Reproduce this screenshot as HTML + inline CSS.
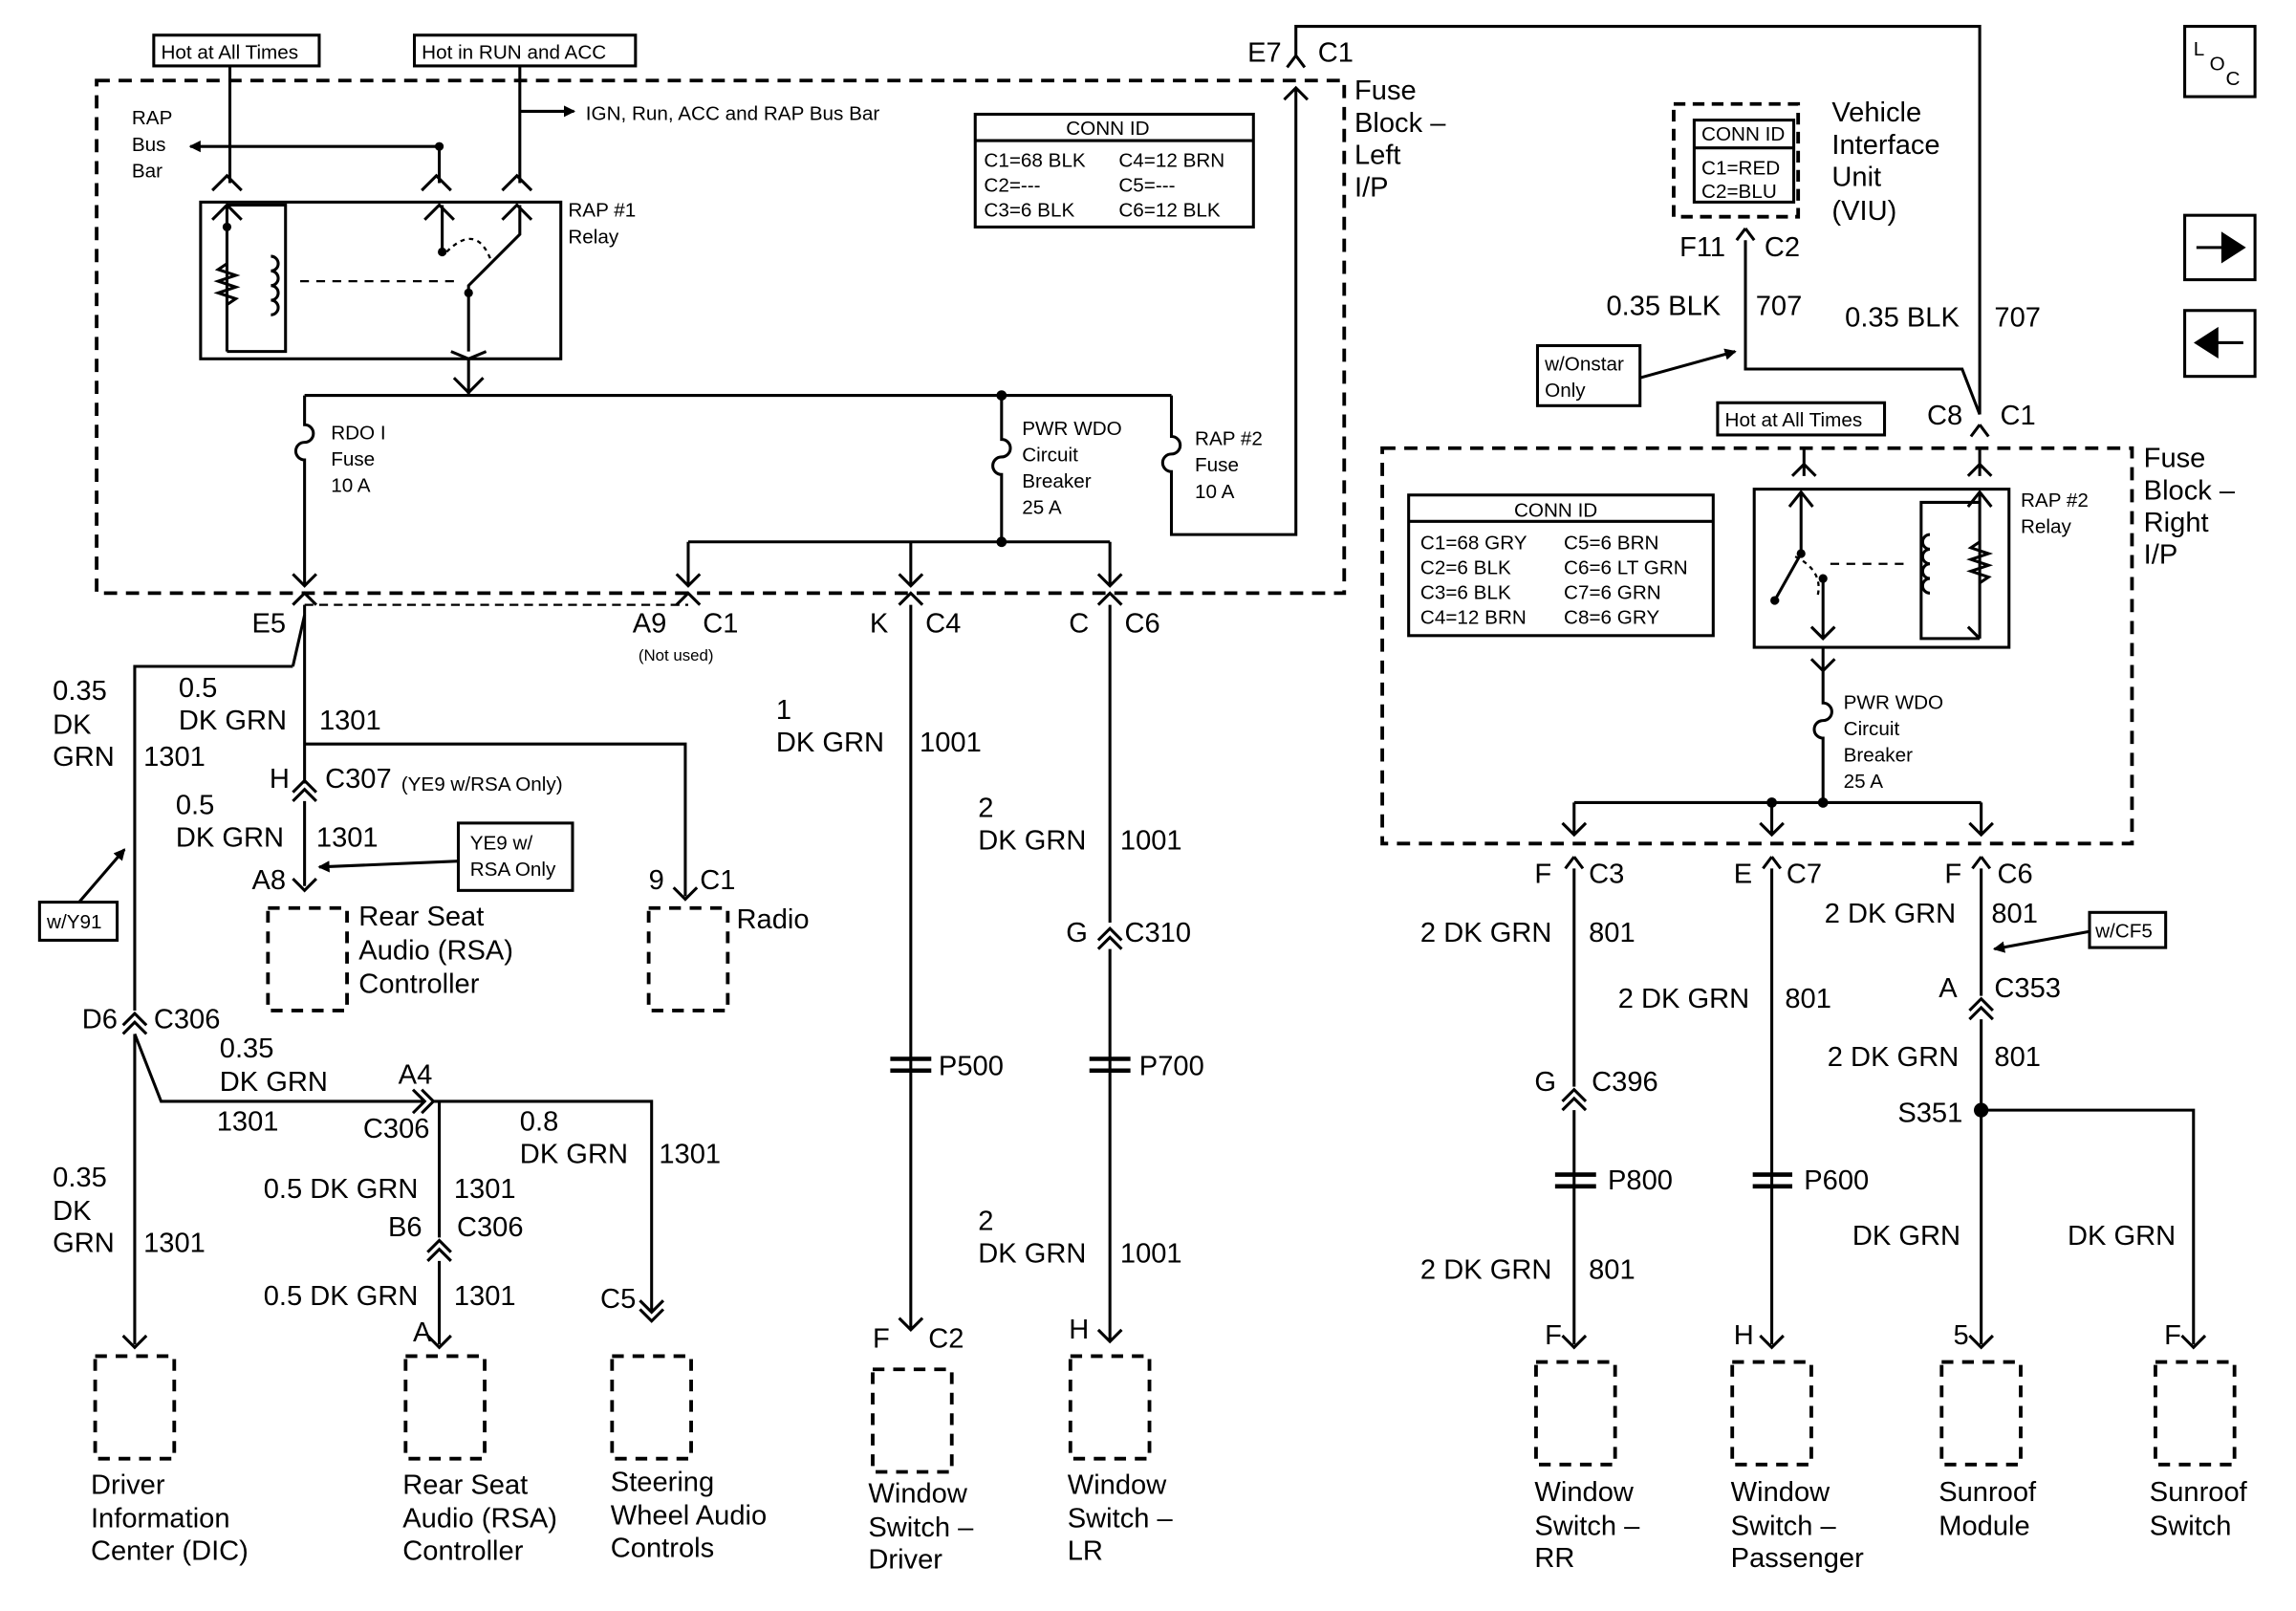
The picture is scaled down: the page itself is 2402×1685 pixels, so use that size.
<!DOCTYPE html>
<html><head><meta charset="utf-8"><style>
html,body{margin:0;padding:0;background:#fff}
svg{display:block}
text{font-family:"Liberation Sans",Arial,sans-serif;fill:#000}
.s{font-size:13.5px}.m{font-size:19px}.x{font-size:11px}
</style></head><body>
<svg width="2402" height="1685" viewBox="0 0 1568 1100" preserveAspectRatio="none" xmlns="http://www.w3.org/2000/svg">
<defs>
<marker id="ah" markerWidth="8" markerHeight="8" refX="7" refY="4" orient="auto" markerUnits="userSpaceOnUse"><path d="M0,0 L8,4 L0,8 z" fill="#000"/></marker>
</defs>
<g fill="none" stroke="#000" stroke-width="2">
<rect x="66" y="55" width="852" height="350" stroke-dasharray="9,6" stroke-width="2.5"/>
<rect x="944" y="306" width="512" height="270" stroke-dasharray="9,6" stroke-width="2.5"/>
<rect x="1143" y="71" width="85" height="77" stroke-dasharray="8,5" stroke-width="2.5"/>
<rect x="105" y="24" width="113" height="21"/>
<rect x="283" y="24" width="151" height="21"/>
<rect x="666" y="78" width="190" height="77"/>
<line x1="666" y1="96" x2="856" y2="96"/>
<rect x="1157" y="82" width="68" height="56"/>
<line x1="1157" y1="101" x2="1225" y2="101"/>
<rect x="137" y="138" width="246" height="107"/>
<rect x="1050" y="236" width="70" height="41"/>
<rect x="1173" y="275" width="114" height="22"/>
<rect x="962" y="338" width="208" height="96"/>
<line x1="962" y1="356" x2="1170" y2="356"/>
<rect x="1198" y="334" width="174" height="108"/>
<rect x="313" y="562" width="78" height="46"/>
<rect x="27" y="616" width="53" height="26"/>
<rect x="1427" y="623" width="52" height="24"/>
<rect x="1492" y="18" width="48" height="48"/>
<rect x="1492" y="147" width="48" height="44"/>
<rect x="1492" y="212" width="48" height="45"/>
<path d="M157 45 V125 M145 130 L155 120 L165 130"/>
<path d="M355 45 V125 M343 130 L353 120 L363 130"/>
<path d="M300 100 V125 M288 130 L298 120 L308 130"/>
<path d="M300 100 H130" marker-end="url(#ah)"/>
<path d="M355 76 H392" marker-end="url(#ah)"/>
<path d="M155 140 V240 M145 150 L155 140 L165 150 M155 240 H195 V140 H155"/>
<path d="M155 180 l-6 4 l12 4 l-12 4 l12 4 l-12 4 l12 4 l-6 4"/>
<path d="M185 175 a5 5 0 0 1 0 10 a5 5 0 0 1 0 10 a5 5 0 0 1 0 10 a5 5 0 0 1 0 10"/>
<path d="M205 192 H310" stroke-dasharray="6,5" stroke-width="1.5"/>
<path d="M302 140 V172 M290 150 L300 140 L310 150 M355 140 V160 L320 195 V240 M343 150 L353 140 L363 150 M308 240 L320 245 L332 240"/>
<path d="M305 172 q20 -20 30 5" stroke-dasharray="3,3" stroke-width="1.5"/>
<path d="M320 245 V270 M310 258 L320 268 L330 258"/>
<path d="M208 270 H800"/>
<path d="M208 270 V290 a6 6 0 0 1 0 12 a6 6 0 0 0 0 12 V400 M200 392 L208 400 L216 392"/>
<path d="M684 270 V300 a6 6 0 0 1 0 12 a6 6 0 0 0 0 12 V370"/>
<path d="M800 270 V298 a6 6 0 0 1 0 12 a6 6 0 0 0 0 12 V365 H885 V60 M877 68 L885 60 L893 68"/>
<path d="M470 370 H758 M470 370 V400 M622 370 V400 M758 370 V400 M462 392 L470 400 L478 392 M614 392 L622 400 L630 392 M750 392 L758 400 L766 392"/>
<path d="M885 38 L879 46 M885 38 L891 46 M885 38 V18 H1352 V283"/>
<path d="M1192 156 L1186 164 M1192 156 L1198 164 M1192 164 V252 H1340 L1352 283"/>
<path d="M1120 258 L1185 240" marker-end="url(#ah)"/>
<path d="M1352 290 L1346 298 M1352 290 L1358 298"/>
<path d="M1232 306 V325 M1224 325 L1232 317 L1240 325 M1352 306 V325 M1344 325 L1352 317 L1360 325"/>
<path d="M1230 336 V378 L1212 410 M1222 346 L1230 336 L1238 346 M1245 395 V436 M1237 428 L1245 436 L1253 428 M1212 410 H1215"/>
<path d="M1226 380 q20 10 15 28" stroke-dasharray="3,3" stroke-width="1.5"/>
<path d="M1250 385 H1300" stroke-dasharray="6,5" stroke-width="1.5"/>
<path d="M1352 336 V436 M1344 346 L1352 336 L1360 346 M1352 436 H1312 V343 H1352 M1344 428 L1352 436"/>
<path d="M1352 370 l-6 4 l12 4 l-12 4 l12 4 l-12 4 l12 4 l-6 4"/>
<path d="M1318 365 a5 5 0 0 0 0 10 a5 5 0 0 0 0 10 a5 5 0 0 0 0 10 a5 5 0 0 0 0 10"/>
<path d="M1245 442 V458 M1237 450 L1245 458 L1253 450 M1245 458 V480 a6 6 0 0 1 0 12 a6 6 0 0 0 0 12 V548"/>
<path d="M1075 548 H1353 M1075 548 V570 M1210 548 V570 M1353 548 V570 M1067 562 L1075 570 L1083 562 M1202 562 L1210 570 L1218 562 M1345 562 L1353 570 L1361 562"/>
<path d="M1075 585 L1069 593 M1075 585 L1081 593 M1075 593 V742 M1067 752 L1075 744 L1083 752 M1067 758 L1075 750 L1083 758 M1075 758 V918 M1067 912 L1075 920 L1083 912"/>
<path d="M1210 585 L1204 593 M1210 585 L1216 593 M1210 593 V918 M1202 912 L1210 920 L1218 912"/>
<path d="M1353 585 L1347 593 M1353 585 L1359 593 M1353 593 V680 M1345 690 L1353 682 L1361 690 M1345 696 L1353 688 L1361 696 M1353 696 V918 M1345 912 L1353 920 L1361 912"/>
<path d="M1353 758 H1498 V918 M1490 912 L1498 920 L1506 912"/>
<path d="M1427 636 L1362 648" marker-end="url(#ah)"/>
<path d="M200 413 L208 405 L216 413 M208 413 V535 M200 541 L208 533 L216 541 M200 547 L208 539 L216 547 M208 547 V605 M200 600 L208 608 L216 600"/>
<path d="M200 455 H92 V690 M84 700 L92 692 L100 700 M84 706 L92 698 L100 706 M92 706 V918 M84 912 L92 920 L100 912"/>
<path d="M200 455 L208 420" />
<path d="M208 413 H470" stroke-dasharray="6,4" stroke-width="1.5"/>
<path d="M462 413 L470 405 L478 413"/>
<path d="M208 508 H468 V612 M460 606 L468 614 L476 606"/>
<path d="M313 588 L218 592" marker-end="url(#ah)"/>
<path d="M54 616 L85 580" marker-end="url(#ah)"/>
<path d="M92 706 L110 752 H290 M282 744 L290 752 L282 760 M288 744 L296 752 L288 760 M296 752 H445 V895 M437 888 L445 896 L453 888 M437 894 L445 902 L453 894"/>
<path d="M300 752 V845 M292 855 L300 847 L308 855 M292 861 L300 853 L308 861 M300 861 V918 M292 912 L300 920 L308 912"/>
<path d="M614 413 L622 405 L630 413 M622 413 V908 M614 900 L622 908 L630 900"/>
<path d="M750 413 L758 405 L766 413 M758 413 V630 M750 642 L758 634 L766 642 M750 648 L758 640 L766 648 M758 648 V915 M750 908 L758 916 L766 908"/>
<path d="M608 723 H636 M608 731 H636 M744 723 H772 M744 731 H772 M1062 802 H1090 M1062 810 H1090 M1197 802 H1224 M1197 810 H1224" stroke-width="3"/>
<g stroke-dasharray="8,6" stroke-width="2.5">
<rect x="183" y="620" width="54" height="70"/><rect x="443" y="620" width="54" height="70"/>
<rect x="65" y="926" width="54" height="70"/><rect x="277" y="926" width="54" height="70"/><rect x="418" y="926" width="54" height="70"/>
<rect x="596" y="935" width="54" height="70"/><rect x="731" y="926" width="54" height="70"/>
<rect x="1049" y="930" width="54" height="70"/><rect x="1183" y="930" width="54" height="70"/><rect x="1326" y="930" width="54" height="70"/><rect x="1472" y="930" width="54" height="70"/>
</g>
<path d="M1500 169 H1518 V160 L1532 169 L1518 178 V169" fill="#000"/>
<path d="M1532 234 H1514 V225 L1500 234 L1514 243 V234" fill="#000"/>
</g>
<g fill="#000">
<circle cx="300" cy="100" r="3"/><circle cx="155" cy="155" r="3"/><circle cx="302" cy="172" r="3"/><circle cx="320" cy="200" r="3"/>
<circle cx="684" cy="270" r="3.5"/><circle cx="684" cy="370" r="3.5"/>
<circle cx="1210" cy="548" r="3.5"/><circle cx="1245" cy="548" r="3.5"/><circle cx="1353" cy="758" r="5"/>
<circle cx="1230" cy="378" r="3"/><circle cx="1245" cy="395" r="3"/><circle cx="1212" cy="410" r="3"/>
</g>
<text class="s" x="110" y="40">Hot at All Times</text>
<text class="s" x="288" y="40">Hot in RUN and ACC</text>
<text class="s" x="90" y="85">RAP</text><text class="s" x="90" y="103">Bus</text><text class="s" x="90" y="121">Bar</text>
<text class="s" x="400" y="82">IGN, Run, ACC and RAP Bus Bar</text>
<text class="s" x="388" y="148">RAP #1</text><text class="s" x="388" y="166">Relay</text>
<text class="s" x="728" y="92">CONN ID</text>
<text class="s" x="672" y="114">C1=68 BLK</text><text class="s" x="764" y="114">C4=12 BRN</text>
<text class="s" x="672" y="131">C2=---</text><text class="s" x="764" y="131">C5=---</text>
<text class="s" x="672" y="148">C3=6 BLK</text><text class="s" x="764" y="148">C6=12 BLK</text>
<text class="m" x="852" y="42">E7</text><text class="m" x="900" y="42">C1</text>
<text class="m" x="925" y="68">Fuse</text><text class="m" x="925" y="90">Block –</text><text class="m" x="925" y="112">Left</text><text class="m" x="925" y="134">I/P</text>
<text class="s" x="226" y="300">RDO I</text><text class="s" x="226" y="318">Fuse</text><text class="s" x="226" y="336">10 A</text>
<text class="s" x="698" y="297">PWR WDO</text><text class="s" x="698" y="315">Circuit</text><text class="s" x="698" y="333">Breaker</text><text class="s" x="698" y="351">25 A</text>
<text class="s" x="816" y="304">RAP #2</text><text class="s" x="816" y="322">Fuse</text><text class="s" x="816" y="340">10 A</text>
<text class="s" x="1162" y="96">CONN ID</text><text class="s" x="1162" y="119">C1=RED</text><text class="s" x="1162" y="135">C2=BLU</text>
<text class="m" x="1251" y="83">Vehicle</text><text class="m" x="1251" y="105">Interface</text><text class="m" x="1251" y="127">Unit</text><text class="m" x="1251" y="150">(VIU)</text>
<text class="m" x="1147" y="175">F11</text><text class="m" x="1205" y="175">C2</text>
<text class="m" x="1097" y="215">0.35 BLK</text><text class="m" x="1199" y="215">707</text>
<text class="m" x="1260" y="223">0.35 BLK</text><text class="m" x="1362" y="223">707</text>
<text class="s" x="1055" y="253">w/Onstar</text><text class="s" x="1055" y="271">Only</text>
<text class="s" x="1178" y="291">Hot at All Times</text>
<text class="m" x="1316" y="290">C8</text><text class="m" x="1366" y="290">C1</text>
<text class="m" x="1464" y="319">Fuse</text><text class="m" x="1464" y="341">Block –</text><text class="m" x="1464" y="363">Right</text><text class="m" x="1464" y="385">I/P</text>
<text class="s" x="1034" y="353">CONN ID</text>
<text class="s" x="970" y="375">C1=68 GRY</text><text class="s" x="1068" y="375">C5=6 BRN</text>
<text class="s" x="970" y="392">C2=6 BLK</text><text class="s" x="1068" y="392">C6=6 LT GRN</text>
<text class="s" x="970" y="409">C3=6 BLK</text><text class="s" x="1068" y="409">C7=6 GRN</text>
<text class="s" x="970" y="426">C4=12 BRN</text><text class="s" x="1068" y="426">C8=6 GRY</text>
<text class="s" x="1380" y="346">RAP #2</text><text class="s" x="1380" y="364">Relay</text>
<text class="s" x="1259" y="484">PWR WDO</text><text class="s" x="1259" y="502">Circuit</text><text class="s" x="1259" y="520">Breaker</text><text class="s" x="1259" y="538">25 A</text>
<text class="m" x="172" y="432">E5</text>
<text class="m" x="432" y="432">A9</text><text class="m" x="480" y="432">C1</text><text class="x" x="436" y="451">(Not used)</text>
<text class="m" x="594" y="432">K</text><text class="m" x="632" y="432">C4</text>
<text class="m" x="730" y="432">C</text><text class="m" x="768" y="432">C6</text>
<text class="m" x="36" y="478">0.35</text><text class="m" x="36" y="501">DK</text><text class="m" x="36" y="523">GRN</text><text class="m" x="98" y="523">1301</text>
<text class="m" x="122" y="476">0.5</text><text class="m" x="122" y="498">DK GRN</text><text class="m" x="218" y="498">1301</text>
<text class="m" x="184" y="538">H</text><text class="m" x="222" y="538">C307</text><text class="s" x="274" y="540">(YE9 w/RSA Only)</text>
<text class="m" x="120" y="556">0.5</text><text class="m" x="120" y="578">DK GRN</text><text class="m" x="216" y="578">1301</text>
<text class="s" x="321" y="580">YE9 w/</text><text class="s" x="321" y="598">RSA Only</text>
<text class="m" x="172" y="607">A8</text>
<text class="m" x="245" y="632">Rear Seat</text><text class="m" x="245" y="655">Audio (RSA)</text><text class="m" x="245" y="678">Controller</text>
<text class="m" x="443" y="607">9</text><text class="m" x="478" y="607">C1</text><text class="m" x="503" y="634">Radio</text>
<text class="s" x="32" y="634">w/Y91</text>
<text class="m" x="56" y="702">D6</text><text class="m" x="105" y="702">C306</text>
<text class="m" x="150" y="722">0.35</text><text class="m" x="150" y="745">DK GRN</text><text class="m" x="148" y="772">1301</text>
<text class="m" x="272" y="740">A4</text><text class="m" x="248" y="777">C306</text>
<text class="m" x="355" y="772">0.8</text><text class="m" x="355" y="794">DK GRN</text><text class="m" x="450" y="794">1301</text>
<text class="m" x="36" y="810">0.35</text><text class="m" x="36" y="833">DK</text><text class="m" x="36" y="855">GRN</text><text class="m" x="98" y="855">1301</text>
<text class="m" x="180" y="818">0.5 DK GRN</text><text class="m" x="310" y="818">1301</text>
<text class="m" x="265" y="844">B6</text><text class="m" x="312" y="844">C306</text>
<text class="m" x="180" y="891">0.5 DK GRN</text><text class="m" x="310" y="891">1301</text>
<text class="m" x="282" y="916">A</text><text class="m" x="410" y="893">C5</text>
<text class="m" x="530" y="491">1</text><text class="m" x="530" y="513">DK GRN</text><text class="m" x="628" y="513">1001</text>
<text class="m" x="668" y="558">2</text><text class="m" x="668" y="580">DK GRN</text><text class="m" x="765" y="580">1001</text>
<text class="m" x="728" y="643">G</text><text class="m" x="768" y="643">C310</text>
<text class="m" x="641" y="734">P500</text><text class="m" x="778" y="734">P700</text>
<text class="m" x="668" y="840">2</text><text class="m" x="668" y="862">DK GRN</text><text class="m" x="765" y="862">1001</text>
<text class="m" x="596" y="920">F</text><text class="m" x="634" y="920">C2</text><text class="m" x="730" y="914">H</text>
<text class="m" x="62" y="1020">Driver</text><text class="m" x="62" y="1043">Information</text><text class="m" x="62" y="1065">Center (DIC)</text>
<text class="m" x="275" y="1020">Rear Seat</text><text class="m" x="275" y="1043">Audio (RSA)</text><text class="m" x="275" y="1065">Controller</text>
<text class="m" x="417" y="1018">Steering</text><text class="m" x="417" y="1041">Wheel Audio</text><text class="m" x="417" y="1063">Controls</text>
<text class="m" x="593" y="1026">Window</text><text class="m" x="593" y="1049">Switch –</text><text class="m" x="593" y="1071">Driver</text>
<text class="m" x="729" y="1020">Window</text><text class="m" x="729" y="1043">Switch –</text><text class="m" x="729" y="1065">LR</text>
<text class="m" x="1048" y="603">F</text><text class="m" x="1085" y="603">C3</text>
<text class="m" x="1184" y="603">E</text><text class="m" x="1220" y="603">C7</text>
<text class="m" x="1328" y="603">F</text><text class="m" x="1364" y="603">C6</text>
<text class="m" x="970" y="643">2 DK GRN</text><text class="m" x="1085" y="643">801</text>
<text class="m" x="1246" y="630">2 DK GRN</text><text class="m" x="1360" y="630">801</text>
<text class="s" x="1431" y="640">w/CF5</text>
<text class="m" x="1105" y="688">2 DK GRN</text><text class="m" x="1219" y="688">801</text>
<text class="m" x="1324" y="681">A</text><text class="m" x="1362" y="681">C353</text>
<text class="m" x="1248" y="728">2 DK GRN</text><text class="m" x="1362" y="728">801</text>
<text class="m" x="1048" y="745">G</text><text class="m" x="1087" y="745">C396</text>
<text class="m" x="1296" y="766">S351</text>
<text class="m" x="1098" y="812">P800</text><text class="m" x="1232" y="812">P600</text>
<text class="m" x="1265" y="850">DK GRN</text><text class="m" x="1412" y="850">DK GRN</text>
<text class="m" x="970" y="873">2 DK GRN</text><text class="m" x="1085" y="873">801</text>
<text class="m" x="1055" y="918">F</text><text class="m" x="1184" y="918">H</text><text class="m" x="1334" y="918">5</text><text class="m" x="1478" y="918">F</text>
<text class="m" x="1048" y="1025">Window</text><text class="m" x="1048" y="1048">Switch –</text><text class="m" x="1048" y="1070">RR</text>
<text class="m" x="1182" y="1025">Window</text><text class="m" x="1182" y="1048">Switch –</text><text class="m" x="1182" y="1070">Passenger</text>
<text class="m" x="1324" y="1025">Sunroof</text><text class="m" x="1324" y="1048">Module</text>
<text class="m" x="1468" y="1025">Sunroof</text><text class="m" x="1468" y="1048">Switch</text>
<text class="s" x="1498" y="38">L</text><text class="s" x="1509" y="48">O</text><text class="s" x="1520" y="58">C</text>
</svg>
</body></html>
